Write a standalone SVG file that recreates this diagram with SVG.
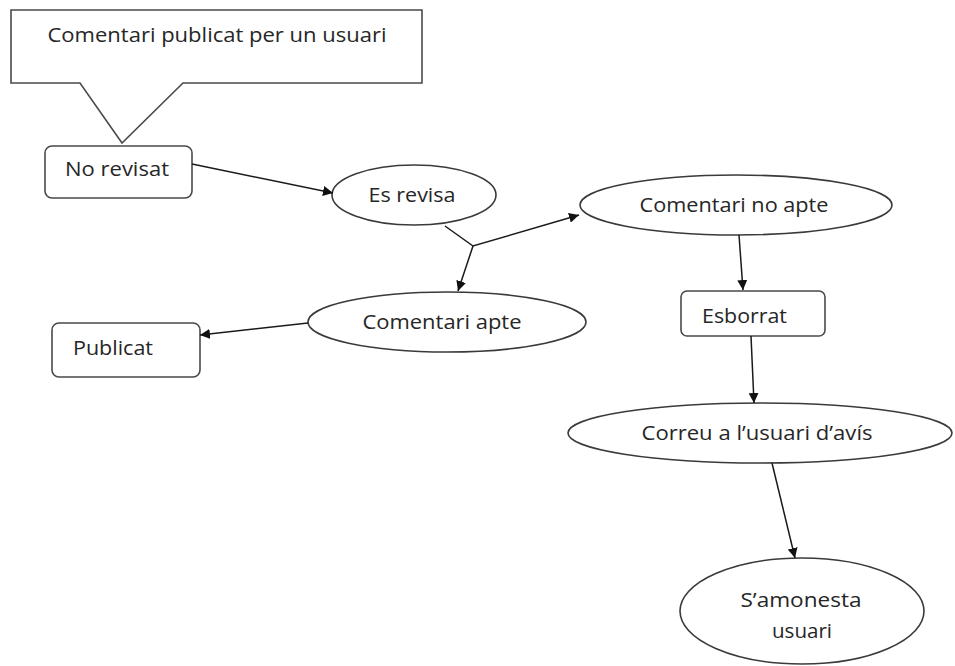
<svg xmlns="http://www.w3.org/2000/svg" width="955" height="666" viewBox="0 0 955 666">
  <style>
    .shape { fill: #ffffff; stroke: #3a3a3a; stroke-width: 1.6; }
    .box { fill: #ffffff; stroke: #4a4a4a; stroke-width: 1.6; }
    .lbl { font-family: "Open Sans", Lato, "Liberation Sans", sans-serif; font-size: 20px; fill: #262626; }
    .mid { text-anchor: middle; }
    .edge { fill: none; stroke: #1a1a1a; stroke-width: 1.5; }
  </style>
  <defs>
    <marker id="arrow" viewBox="0 0 10 10" refX="10" refY="5" markerWidth="10" markerHeight="10" markerUnits="userSpaceOnUse" orient="auto">
      <path d="M0,0 L10,5 L0,10 z" fill="#111111"/>
    </marker>
  </defs>
  <rect width="955" height="666" fill="#ffffff"/>

  <!-- callout bubble with pointer to the first state -->
  <g id="callout">
    <path class="box" d="M11,10 H422 V83 H183 L122,143 L80,83 H11 Z"/>
    <text class="lbl mid" x="217" y="42" textLength="339" lengthAdjust="spacingAndGlyphs">Comentari publicat per un usuari</text>
  </g>

  <g id="no-revisat">
    <rect class="box" x="45" y="146" width="147" height="52" rx="7"/>
    <text class="lbl" x="65" y="176" textLength="104" lengthAdjust="spacingAndGlyphs">No revisat</text>
  </g>

  <g id="es-revisa">
    <ellipse class="shape" cx="414" cy="195" rx="82" ry="30"/>
    <text class="lbl mid" x="412" y="202" textLength="87" lengthAdjust="spacingAndGlyphs">Es revisa</text>
  </g>

  <g id="comentari-no-apte">
    <ellipse class="shape" cx="736" cy="205" rx="156" ry="30"/>
    <text class="lbl mid" x="734" y="212" textLength="189" lengthAdjust="spacingAndGlyphs">Comentari no apte</text>
  </g>

  <g id="comentari-apte">
    <ellipse class="shape" cx="447" cy="322" rx="139" ry="30"/>
    <text class="lbl mid" x="442" y="329" textLength="159" lengthAdjust="spacingAndGlyphs">Comentari apte</text>
  </g>

  <g id="publicat">
    <rect class="box" x="52" y="323" width="148" height="54" rx="7"/>
    <text class="lbl" x="73" y="355" textLength="80" lengthAdjust="spacingAndGlyphs">Publicat</text>
  </g>

  <g id="esborrat">
    <rect class="box" x="681" y="291" width="144" height="45" rx="6"/>
    <text class="lbl" x="702" y="323" textLength="85" lengthAdjust="spacingAndGlyphs">Esborrat</text>
  </g>

  <g id="correu">
    <ellipse class="shape" cx="760" cy="433" rx="192" ry="30"/>
    <text class="lbl mid" x="757" y="440" textLength="231" lengthAdjust="spacingAndGlyphs">Correu a l’usuari d’avís</text>
  </g>

  <g id="amonesta">
    <ellipse class="shape" cx="802" cy="611" rx="122" ry="53"/>
    <text class="lbl mid" x="801" y="607" textLength="121" lengthAdjust="spacingAndGlyphs">S’amonesta</text>
    <text class="lbl mid" x="802" y="638" textLength="60" lengthAdjust="spacingAndGlyphs">usuari</text>
  </g>

  <g id="connectors">
    <line class="edge" x1="192" y1="164" x2="333" y2="193" marker-end="url(#arrow)"/>
    <polyline class="edge" points="445,226 473,246 579,215" marker-end="url(#arrow)"/>
    <line class="edge" x1="473" y1="246" x2="458" y2="291" marker-end="url(#arrow)"/>
    <line class="edge" x1="308" y1="323" x2="200" y2="335" marker-end="url(#arrow)"/>
    <line class="edge" x1="739" y1="235" x2="743" y2="290" marker-end="url(#arrow)"/>
    <line class="edge" x1="751" y1="336" x2="754" y2="403" marker-end="url(#arrow)"/>
    <line class="edge" x1="772" y1="463" x2="795" y2="558" marker-end="url(#arrow)"/>
  </g>
</svg>
